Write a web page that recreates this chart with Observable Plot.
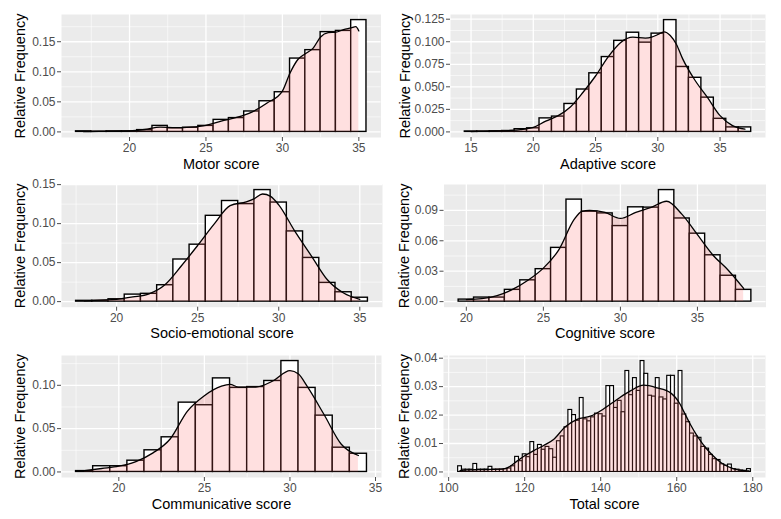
<!DOCTYPE html>
<html>
<head>
<meta charset="utf-8">
<script src="https://cdn.jsdelivr.net/npm/d3@7"></script>
<script src="https://cdn.jsdelivr.net/npm/@observablehq/plot@0.6"></script>
<style>
  html, body { margin: 0; padding: 0; background: white; }
  #chart { position: relative; width: 781px; height: 519px; background: white; overflow: hidden; }
</style>
</head>
<body>
<div id="chart"></div>
<script>
// ---------- Data (bin centres, relative frequencies, density curve samples) ----------
const motorScore = [17,18,19,20,21,22,23,24,25,26,27,28,29,30,31,32,33,34,35];
const motorFreq  = [0.001,0.0005,0.001,0.001,0.003,0.010,0.006,0.007,0.010,0.020,0.023,0.034,0.051,0.066,0.122,0.136,0.166,0.168,0.186];
const motorDensX = [17,18,19,20,21,22,23,24,25,26,27,28,29,30,30.5,31,31.5,32,32.5,33,33.5,34,34.5,34.8,35];
const motorDensY = [0.0005,0.001,0.001,0.0015,0.004,0.008,0.007,0.008,0.011,0.018,0.024,0.033,0.048,0.068,0.098,0.120,0.130,0.139,0.158,0.165,0.166,0.170,0.173,0.175,0.168];
const motorTicksX = [20,25,30,35];
const motorTicksY = [0,0.05,0.10,0.15];

const adaptiveScore = [15,16,17,18,19,20,21,22,23,24,25,26,27,28,29,30,31,32,33,34,35,36,37];
const adaptiveFreq  = [0.0005,0.0005,0.0007,0.001,0.003,0.004,0.015,0.017,0.031,0.047,0.065,0.083,0.101,0.110,0.099,0.109,0.124,0.072,0.060,0.038,0.0145,0.005,0.005];
const adaptiveDensX = [15,16,17,18,19,20,21,22,23,24,25,26,27,28,29,29.5,30,30.5,31,31.5,32,33,34,35,36,37];
const adaptiveDensY = [0.0004,0.0006,0.001,0.0015,0.0025,0.005,0.012,0.018,0.028,0.044,0.062,0.083,0.099,0.105,0.104,0.105,0.108,0.111,0.107,0.097,0.081,0.057,0.038,0.018,0.007,0.003];
const adaptiveTicksX = [15,20,25,30,35];
const adaptiveTicksY = [0,0.025,0.05,0.075,0.10,0.125];

const socioScore = [18,19,20,21,22,23,24,25,26,27,28,29,30,31,32,33,34,35];
const socioFreq  = [0.001,0.001,0.003,0.009,0.010,0.021,0.054,0.073,0.110,0.129,0.125,0.143,0.127,0.090,0.056,0.024,0.012,0.005];
const socioDensX = [18,19,20,21,22,23,24,25,26,27,28,28.5,29,29.5,30,31,32,33,34,35];
const socioDensY = [0.001,0.002,0.003,0.006,0.010,0.022,0.046,0.072,0.099,0.123,0.128,0.132,0.138,0.135,0.124,0.090,0.059,0.028,0.011,0.003];
const socioTicksX = [20,25,30,35];
const socioTicksY = [0,0.05,0.10,0.15];

const cognitiveScore = [20,21,22,23,24,25,26,27,28,29,30,31,32,33,34,35,36,37,38];
const cognitiveFreq  = [0.002,0.004,0.004,0.0116,0.021,0.032,0.053,0.1006,0.0887,0.087,0.0745,0.093,0.0927,0.110,0.082,0.067,0.0457,0.0255,0.0116];
const cognitiveDensX = [20,21,22,23,24,25,26,27,27.5,28,29,30,31,32,33,34,35,36,37,38];
const cognitiveDensY = [0.002,0.003,0.006,0.012,0.021,0.033,0.051,0.081,0.089,0.090,0.088,0.082,0.088,0.093,0.099,0.086,0.066,0.046,0.031,0.013];
const cognitiveTicksX = [20,25,30,35];
const cognitiveTicksY = [0,0.03,0.06,0.09];

const commScore = [18,19,20,21,22,23,24,25,26,27,28,29,30,31,32,33,34];
const commFreq  = [0.001,0.0066,0.0066,0.013,0.025,0.040,0.080,0.077,0.108,0.097,0.098,0.105,0.128,0.097,0.065,0.028,0.021];
const commDensX = [18,19,20,21,22,23,24,25,26,26.5,27,28,29,30,30.5,31,32,33,34];
const commDensY = [0.0015,0.004,0.0066,0.012,0.022,0.038,0.070,0.088,0.099,0.101,0.098,0.098,0.105,0.117,0.113,0.099,0.066,0.032,0.019];
const commTicksX = [20,25,30,35];
const commTicksY = [0,0.05,0.10];

const totalScore = [103,104,105,106,107,108,109,110,111,112,113,114,115,116,117,118,119,120,121,122,123,124,125,126,127,128,129,130,131,132,133,134,135,136,137,138,139,140,141,142,143,144,145,146,147,148,149,150,151,152,153,154,155,156,157,158,159,160,161,162,163,164,165,166,167,168,169,170,171,172,173,174,175,176,177,178,179];
const totalFreq  = [0.0020,0.0008,0.0008,0.0008,0.0028,0.0008,0.0008,0.0008,0.0018,0.0008,0.0008,0.0008,0.0010,0.0012,0.0020,0.0053,0.0038,0.0062,0.0052,0.0105,0.0060,0.0095,0.0078,0.0088,0.0080,0.0050,0.0108,0.0125,0.0157,0.0218,0.0200,0.0180,0.0260,0.0185,0.0178,0.0192,0.0205,0.0203,0.0195,0.0302,0.0302,0.0225,0.0250,0.0210,0.0355,0.0270,0.0330,0.0285,0.0390,0.0345,0.0268,0.0265,0.0330,0.0262,0.0255,0.0338,0.0338,0.0240,0.0355,0.0202,0.0175,0.0135,0.0125,0.0120,0.0088,0.0082,0.0060,0.0045,0.0042,0.0027,0.0022,0.0026,0.0010,0.0008,0.0005,0.0004,0.0010];
const totalDensX = [103,105,108,111,114.5,116.2,118,119.8,122.4,125,127.6,130.7,133.8,137.3,140.8,144.3,147.8,151.3,154.8,158.3,160.9,161.8,163.6,165.4,168,170.6,172.4,175,177.6,179];
const totalDensY = [0.0005,0.0007,0.0008,0.0009,0.0011,0.002,0.0038,0.0055,0.0075,0.0093,0.0114,0.0159,0.0185,0.0196,0.0222,0.0255,0.0285,0.0305,0.0296,0.0279,0.0238,0.0214,0.0167,0.0126,0.0079,0.0044,0.0026,0.0011,0.0005,0.0004];
const totalTicksX = [100,120,140,160,180];
const totalTicksY = [0,0.01,0.02,0.03,0.04];

const yTitle = "Relative Frequency";

// ---------- Drawing ----------
const FONT = "'Liberation Sans', Arial, Helvetica, sans-serif";
const chart = document.getElementById("chart");

function minors(ticks, domain) {
  const step = ticks[1] - ticks[0];
  const out = [ticks[0] - step / 2, ...ticks.map(t => t + step / 2)];
  return out.filter(v => v > domain[0] && v < domain[1]);
}

function drawPanel(cfg) {
  const {left, top, width, height, plotLeft, plotRight, plotTop, plotBottom,
         centers, freq, densX, densY, ticksX, ticksY, yFormat, xLabel, yTitleX, barStroke} = cfg;
  const bars = centers.map((c, i) => ({x1: c - 0.5, x2: c + 0.5, y: freq[i]}));
  const dens = densX.map((x, i) => ({x, y: densY[i]}));
  const lo = centers[0] - 0.5, hi = centers[centers.length - 1] + 0.5;
  const pad = (hi - lo) * 0.05;
  const xDomain = [lo - pad, hi + pad];
  const M = Math.max(d3.max(freq), d3.max(densY));
  const yDomain = [-0.05 * M, 1.05 * M];

  const svg = Plot.plot({
    width, height,
    marginLeft: plotLeft - left,
    marginRight: left + width - plotRight,
    marginTop: plotTop - top,
    marginBottom: top + height - plotBottom,
    x: {domain: xDomain},
    y: {domain: yDomain},
    style: {fontFamily: FONT, fontSize: "12px", background: "transparent", overflow: "visible"},
    marks: [
      Plot.frame({fill: "#EBEBEB", stroke: "none"}),
      Plot.ruleX(minors(ticksX, xDomain), {stroke: "white", strokeWidth: 0.6}),
      Plot.ruleY(minors(ticksY, yDomain), {stroke: "white", strokeWidth: 0.6}),
      Plot.ruleX(ticksX, {stroke: "white", strokeWidth: 1.3}),
      Plot.ruleY(ticksY, {stroke: "white", strokeWidth: 1.3}),
      Plot.rectY(bars, {x1: "x1", x2: "x2", y: "y", fill: "white", stroke: "black", strokeWidth: barStroke}),
      Plot.areaY(dens, {x: "x", y: "y", fill: "#FF6666", fillOpacity: 0.2, curve: "monotone-x"}),
      Plot.lineY(dens, {x: "x", y: "y", stroke: "black", strokeWidth: 1.3, curve: "monotone-x"}),
      Plot.axisX(ticksX, {tickSize: 4, tickPadding: 2, fontSize: 12, color: "#4D4D4D", label: null}),
      Plot.axisY(ticksY, {tickSize: 4, tickPadding: 2, fontSize: 12, color: "#4D4D4D", label: null,
                          tickFormat: d3.format(yFormat)}),
      Plot.text([xLabel], {text: d => d, frameAnchor: "bottom", dy: 26.5, fontSize: 14.5, fill: "black",
                           textAnchor: "middle", lineAnchor: "middle"}),
      Plot.text([yTitle], {text: d => d, frameAnchor: "left", rotate: -90, dx: yTitleX - plotLeft,
                           fontSize: 14.5, fill: "black", textAnchor: "middle", lineAnchor: "middle"})
    ]
  });
  svg.style.position = "absolute";
  svg.style.left = left + "px";
  svg.style.top = top + "px";
  chart.appendChild(svg);
}

const rows = [
  {top: 0,   height: 172, plotTop: 14,  plotBottom: 137},
  {top: 172, height: 171, plotTop: 184, plotBottom: 306.7},
  {top: 343, height: 176, plotTop: 355, plotBottom: 477}
];

drawPanel({...rows[0], left: 0, width: 390, plotLeft: 61, plotRight: 380.5,
  centers: motorScore, freq: motorFreq, densX: motorDensX, densY: motorDensY, barStroke: 1.4,
  ticksX: motorTicksX, ticksY: motorTicksY, yFormat: ".2f", xLabel: "Motor score", yTitleX: 20});
drawPanel({...rows[0], left: 390, width: 391, plotLeft: 450, plotRight: 765,
  centers: adaptiveScore, freq: adaptiveFreq, densX: adaptiveDensX, densY: adaptiveDensY, barStroke: 1.4,
  ticksX: adaptiveTicksX, ticksY: adaptiveTicksY, yFormat: ".3f", xLabel: "Adaptive score", yTitleX: 405});
drawPanel({...rows[1], left: 0, width: 390, plotLeft: 61, plotRight: 382,
  centers: socioScore, freq: socioFreq, densX: socioDensX, densY: socioDensY, barStroke: 1.4,
  ticksX: socioTicksX, ticksY: socioTicksY, yFormat: ".2f", xLabel: "Socio-emotional score", yTitleX: 20});
drawPanel({...rows[1], left: 390, width: 391, plotLeft: 443.5, plotRight: 765.5,
  centers: cognitiveScore, freq: cognitiveFreq, densX: cognitiveDensX, densY: cognitiveDensY, barStroke: 1.4,
  ticksX: cognitiveTicksX, ticksY: cognitiveTicksY, yFormat: ".2f", xLabel: "Cognitive score", yTitleX: 404});
drawPanel({...rows[2], left: 0, width: 390, plotLeft: 61, plotRight: 381,
  centers: commScore, freq: commFreq, densX: commDensX, densY: commDensY, barStroke: 1.4,
  ticksX: commTicksX, ticksY: commTicksY, yFormat: ".2f", xLabel: "Communicative score", yTitleX: 20});
drawPanel({...rows[2], left: 390, width: 391, plotLeft: 443, plotRight: 765,
  centers: totalScore, freq: totalFreq, densX: totalDensX, densY: totalDensY, barStroke: 1.15,
  ticksX: totalTicksX, ticksY: totalTicksY, yFormat: ".2f", xLabel: "Total score", yTitleX: 404});
</script>
</body>
</html>
